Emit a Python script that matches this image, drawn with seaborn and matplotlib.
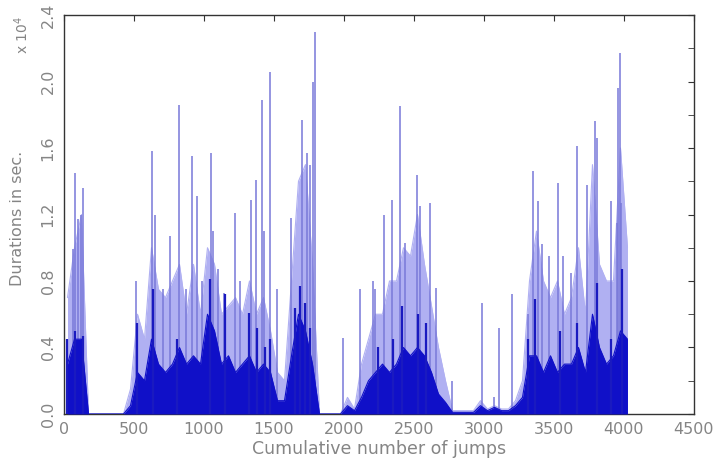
import numpy as np
import pandas as pd
import matplotlib
matplotlib.use("Agg")
import matplotlib.pyplot as plt
import seaborn as sns

# tall individual spikes: jump index, duration in sec
peak_jump = [0, 64, 79, 100, 120, 134, 514, 629, 650, 707, 757, 821, 871, 914, 950,
             986, 1050, 1064, 1100, 1143, 1221, 1257, 1336, 1371, 1414, 1429, 1471,
             1521, 1621, 1700, 1736, 1757, 1779, 1793, 1993, 2114, 2207, 2221, 2286,
             2343, 2400, 2436, 2521, 2543, 2614, 2657, 2771, 2986, 3071, 3107, 3200,
             3314, 3350, 3386, 3414, 3464, 3529, 3564, 3621, 3664, 3736, 3793, 3807,
             3907, 3950, 3957, 3971, 3979]
peak_dur = [5000, 9900, 14500, 11700, 12000, 13600, 8000, 15800, 12000, 7500, 10700,
            18600, 7500, 15500, 13100, 8000, 15700, 11000, 8700, 7300, 12100, 8000,
            12900, 14100, 18900, 11000, 20600, 7500, 11800, 17700, 15700, 15000,
            20000, 23000, 4600, 7500, 8000, 7500, 12000, 12900, 18500, 10300, 14400,
            12500, 12700, 7600, 2000, 6700, 1000, 5200, 7200, 6000, 14600, 12800,
            10200, 9500, 13900, 9500, 8500, 16100, 13800, 17600, 16600, 12800, 11500,
            19600, 21700, 12700]

# darker medium spikes inside the dense parts
mid_jump = [21, 79, 136, 521, 636, 807, 1043, 1150, 1321, 1379, 1436, 1471, 1650,
            1686, 1721, 1757, 2243, 2350, 2414, 2529, 2586, 3314, 3364, 3543, 3664,
            3807, 3907, 3986]
mid_dur = [4500, 5000, 4700, 5500, 7500, 4500, 8100, 7200, 6100, 5200, 4000, 4500,
           6400, 7700, 6700, 5200, 4000, 4500, 6500, 6000, 5500, 4500, 6900, 5000,
           5500, 7900, 4500, 8700]

# dense part of the record, per block of 50 jumps (block start 0 .. 4000)
block_start = list(range(0, 4050, 50))
light_level = [7000, 10000, 12000, 0, 0, 0, 0, 0, 0, 1500, 6000, 4500, 10000, 7500,
               7000, 8000, 9000, 6000, 9000, 6000, 10000, 9000, 6000, 6500, 7000, 6000,
               8000, 6000, 7000, 5000, 2500, 2000, 8000, 14000, 15000, 9000, 0, 0, 0,
               0, 1000, 300, 3000, 4500, 6000, 6000, 8000, 8000, 10000, 9500, 12000,
               9000, 6500, 4000, 2000, 200, 200, 200, 200, 800, 300, 500, 300, 300,
               800, 2000, 8000, 11000, 8000, 7000, 8000, 6000, 7000, 10000, 6000,
               15000, 9000, 8000, 8000, 16000, 10000]
dark_level = [3000, 4500, 4500, 0, 0, 0, 0, 0, 0, 500, 2500, 2000, 4500, 3000, 2500,
              3000, 4000, 3000, 3500, 3000, 6000, 5000, 3000, 3500, 2500, 3000, 3500,
              2500, 3000, 2500, 800, 800, 3500, 6000, 5000, 3000, 0, 0, 0, 0, 500,
              200, 1000, 2000, 2500, 3000, 2500, 3000, 4000, 3500, 4000, 3500, 2500,
              1200, 700, 100, 100, 100, 100, 500, 200, 400, 200, 200, 500, 1000, 3500,
              3500, 2500, 3500, 2500, 3000, 3000, 4000, 2500, 6000, 4000, 3000, 3500,
              5000, 4500]

sc = 1e4
df = pd.DataFrame({"mid": np.array(block_start) + 25,
                   "light": np.array(light_level) / sc,
                   "dark": np.array(dark_level) / sc})

sns.set_style("white")
plt.rcParams['font.family'] = ['DejaVu Sans']
txt = "#858585"

fig = plt.figure(figsize=(7.15, 4.65), dpi=100)
ax = fig.add_axes([0.0895, 0.1097, 0.8811, 0.858])

sns.lineplot(data=df, x="mid", y="light", color="#b0b0f2", lw=0.8, ax=ax, zorder=1)
ax.fill_between(df["mid"], 0, df["light"], color="#b0b0f2", lw=0, zorder=1)
ax.vlines(peak_jump, 0, np.array(peak_dur) / sc, color="#7878d8", lw=1.1, zorder=2)
sns.lineplot(data=df, x="mid", y="dark", color="#1010c8", lw=0.8, ax=ax, zorder=3)
ax.fill_between(df["mid"], 0, df["dark"], color="#1010c8", lw=0, zorder=3)
ax.vlines(mid_jump, 0, np.array(mid_dur) / sc, color="#1a1ac0", lw=1.6, zorder=4)

ax.set_xlim(0, 4500)
ax.set_ylim(0, 2.4)
ax.set_xticks(range(0, 4501, 500))
ax.set_yticks(np.arange(0, 2.41, 0.4))
ax.set_yticks(np.arange(0.2, 2.4, 0.4), minor=True)
ax.set_yticklabels([f"{v:.1f}" for v in np.arange(0, 2.41, 0.4)], rotation=90, va="center")
ax.tick_params(which="both", direction="in", top=True, right=True, length=4,
               labelsize=11.5, labelcolor=txt, color="#333333", pad=6)
ax.set_ylabel("")
ax.set_xlabel("")
for s in ax.spines.values():
    s.set_color("#333333")
    s.set_linewidth(1)

fig.text(0.53, 0.014, "Cumulative number of jumps", ha="center", va="bottom",
         fontsize=12.5, color=txt)
fig.text(0.025, 0.53, "Durations in sec.", rotation=90, ha="center", va="center",
         fontsize=11.5, color=txt)
fig.text(0.03, 0.925, r"x 10$^4$", rotation=90, ha="center", va="center",
         fontsize=10, color=txt)

fig.savefig("out.png", dpi=100)
